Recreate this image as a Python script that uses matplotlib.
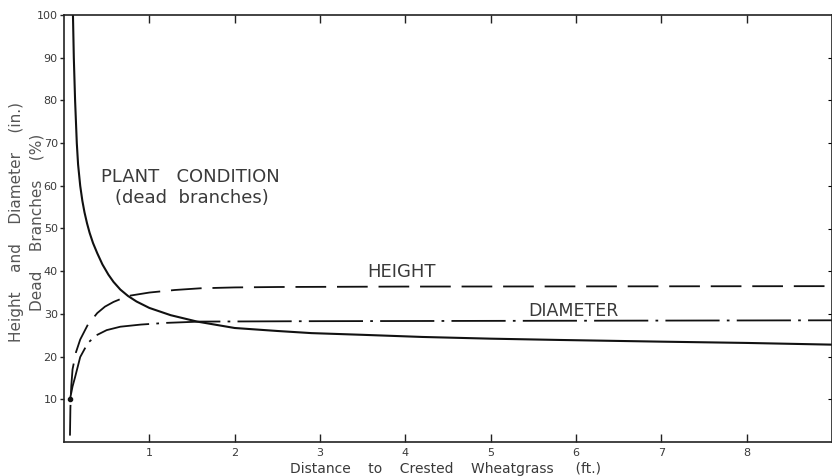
import matplotlib
matplotlib.use("Agg")
import matplotlib.pyplot as plt

plt.rcParams['font.family'] = ['DejaVu Sans']

# plant condition (dead branches, %)
cond_x = [0.105, 0.115, 0.13, 0.15, 0.165, 0.19, 0.215, 0.24, 0.27, 0.30, 0.34,
          0.39, 0.45, 0.52, 0.58, 0.66, 0.75, 0.85, 1.0, 1.25, 1.56, 2.0,
          2.5, 2.9, 3.5, 4.2, 5.0, 5.8, 7.0, 8.0, 9.0]
cond_y = [100, 90, 80, 70, 65, 60, 56.5, 53.8, 51.2, 49, 46.6,
          44.2, 41.6, 39.2, 37.5, 35.7, 34.2, 32.9, 31.4, 29.7, 28.2, 26.7,
          26.0, 25.5, 25.1, 24.6, 24.2, 23.9, 23.5, 23.2, 22.8]

# height (in.)
height_x = [0.07, 0.075, 0.085, 0.1, 0.14, 0.19, 0.28, 0.39, 0.48, 0.58, 0.75,
            1.0, 1.3, 1.6, 2.0, 2.5, 4.0, 9.0]
height_y = [1.5, 8, 13, 17, 21, 24, 27.5, 30.2, 31.7, 32.8, 34.2,
            35.0, 35.6, 36.0, 36.2, 36.3, 36.4, 36.5]

# diameter
diam_x = [0.07, 0.1, 0.13, 0.19, 0.28, 0.38, 0.5, 0.66, 0.9, 1.2, 1.6, 3.0, 6.0, 9.0]
diam_y = [10, 13, 15.2, 19.9, 23.2, 25, 26.2, 27, 27.5, 27.9, 28.2, 28.3, 28.4, 28.5]

xticks = [1, 2, 3, 4, 5, 6, 7, 8]
yticks = [10, 20, 30, 40, 50, 60, 70, 80, 90, 100]

ink = '#111111'
txt = '#3a3a3a'

fig = plt.figure(figsize=(8.32, 4.76), dpi=100)
ax = fig.add_axes([64 / 832, 34 / 476, 768 / 832, 427 / 476])

ax.plot(cond_x, cond_y, color=ink, lw=1.5)
ax.plot(height_x, height_y, color=ink, lw=1.3, linestyle=(0, (17, 6)))
ax.plot(diam_x, diam_y, color=ink, lw=1.3, linestyle=(0, (30, 4, 1.5, 4)))
ax.plot(diam_x[:1], diam_y[:1], 'o', color=ink, ms=3)

ax.set_xlim(0, 9)
ax.set_ylim(0, 100)

for s in ax.spines.values():
    s.set_color('#222222')
    s.set_linewidth(1.2)

ax.set_xticks(xticks)
ax.set_xticklabels([str(t) for t in xticks])
ax.set_yticks(yticks)
ax.set_yticklabels([str(t) for t in yticks])
ax.tick_params(axis='x', direction='in', length=6, width=1, top=True,
               labelsize=8, color='#222222', labelcolor=txt, pad=4)
ax.tick_params(axis='y', direction='out', length=3, width=1, labelsize=8,
               color='#222222', labelcolor=txt, pad=1.5)

# inward ticks along the right edge
rax = ax.secondary_yaxis('right')
rax.set_yticks(yticks[:-1])
rax.tick_params(direction='in', length=3, labelright=False)
rax.spines['right'].set_visible(False)

ax.text(1.48, 62, 'PLANT   CONDITION', ha='center', va='center',
        fontsize=13, color=txt)
ax.text(1.5, 57.1, '(dead  branches)', ha='center', va='center',
        fontsize=13, color=txt)
ax.text(3.96, 39.8, 'HEIGHT', ha='center', va='center',
        fontsize=13, color=txt)
ax.text(5.97, 30.7, 'DIAMETER', ha='center', va='center',
        fontsize=12.5, color=txt)

fig.text(446 / 832, 1 - 469 / 476,
         'Distance    to    Crested    Wheatgrass     (ft.)',
         ha='center', va='center', fontsize=10, color=txt)

fig.text(17 / 832, 1 - 222 / 476, 'Height    and    Diameter    (in.)',
         rotation=90, ha='center', va='center', fontsize=11, color='#555555')
fig.text(37 / 832, 1 - 222 / 476, 'Dead    Branches    (%)',
         rotation=90, ha='center', va='center', fontsize=11, color='#555555')

fig.savefig('out.png', dpi=100)
